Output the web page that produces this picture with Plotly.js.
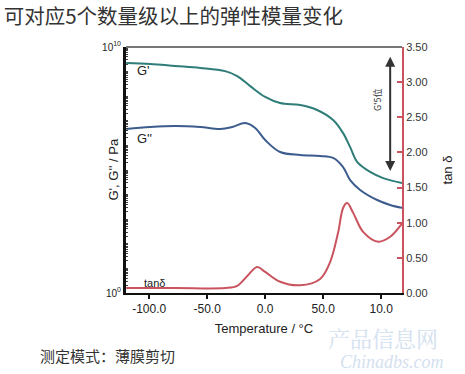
<!DOCTYPE html>
<html>
<head>
<meta charset="utf-8">
<script src="https://cdn.plot.ly/plotly-3.0.1.min.js"></script>
<style>html,body{margin:0;padding:0;background:#fff;}#chart{width:465px;height:374px;}</style>
</head>
<body>
<div id="chart"></div>
<script>
// Temperature (°C) sample points
const gPrimeT = [-119.8, -99.1, -77.6, -56, -34.5, -24.1, -12.9, 0, 12.9, 30.2, 44.8, 58.6, 67.2, 73.3, 79.3, 90.5, 101.7, 118.1];
const gPrimeLog = [9.35, 9.31, 9.23, 9.15, 9.02, 8.82, 8.41, 7.97, 7.72, 7.64, 7.44, 7.03, 6.50, 5.93, 5.33, 4.92, 4.67, 4.47];

const gDoubleT = [-119.8, -99.1, -77.6, -56, -38.8, -28.4, -17.2, -8.6, 0, 12.9, 30.2, 47.4, 58.6, 67.2, 73.3, 81.9, 96.6, 107.8, 118.1];
const gDoubleLog = [6.67, 6.75, 6.79, 6.75, 6.67, 6.75, 6.91, 6.71, 6.22, 5.73, 5.61, 5.57, 5.49, 5.12, 4.59, 4.19, 3.78, 3.58, 3.46];

const tanT = [-119.8, -77.6, -34.5, -24.1, -15, -6.9, 0, 12.9, 30.2, 47.4, 56, 62.9, 67.2, 70.7, 75.9, 84.5, 97.4, 107.8, 118.1];
const tanD = [0.07, 0.07, 0.07, 0.10, 0.25, 0.37, 0.30, 0.16, 0.11, 0.20, 0.44, 0.86, 1.21, 1.28, 1.14, 0.87, 0.73, 0.80, 0.99];

const xTickVals = [-100, -50, 0, 50, 100];
const xTickText = ["-100.0", "-50.0", "0.0", "50.0", "10.0"];
const yTickVals = [1, 1e10];
const yTickText = ["10<sup>0</sup>", "10<sup>10</sup>"];

const gPrime = gPrimeLog.map(v => Math.pow(10, v));
const gDouble = gDoubleLog.map(v => Math.pow(10, v));

// minor log tick positions (each decade and 2..9 within it)
const minorVals = [];
for (let d = 0; d < 10; d++) for (let k = 1; k <= 9; k++) if (!(d === 0 && k === 1)) minorVals.push(k * Math.pow(10, d));

const baseFont = "Liberation Sans, Arial, sans-serif";
const cjkFont = "Noto Sans CJK SC, sans-serif";

const traces = [
  {x: gPrimeT, y: gPrime, type: 'scatter', mode: 'lines', line: {color: '#2e7d78', width: 2, shape: 'spline', smoothing: 1}, yaxis: 'y', hoverinfo: 'skip'},
  {x: gDoubleT, y: gDouble, type: 'scatter', mode: 'lines', line: {color: '#3c5c8e', width: 2, shape: 'spline', smoothing: 1}, yaxis: 'y', hoverinfo: 'skip'},
  {x: tanT, y: tanD, type: 'scatter', mode: 'lines', line: {color: '#c9545f', width: 2, shape: 'spline', smoothing: 1}, yaxis: 'y2', hoverinfo: 'skip'}
];

const pw = 465 - 126 - 63, ph = 374 - 47 - 81;
function px(xp) { return (xp - 126) / pw; }
function py(yp) { return (374 - 81 - yp) / ph; }

const layout = {
  width: 465, height: 374,
  margin: {l: 126, r: 63, t: 47, b: 81},
  paper_bgcolor: '#fff', plot_bgcolor: '#fff',
  showlegend: false,
  font: {family: baseFont, size: 11, color: '#222'},
  title: {
    text: '可对应5个数量级以上的弹性模量变化',
    font: {family: cjkFont, size: 20.5, color: '#333'},
    x: 0.008, xref: 'container', xanchor: 'left',
    y: 0.955, yref: 'container', yanchor: 'middle'
  },
  xaxis: {
    range: [-120, 118],
    tickmode: 'array', tickvals: xTickVals, ticktext: xTickText,
    ticks: 'outside', ticklen: 4, tickwidth: 2, tickcolor: '#111',
    showline: true, linecolor: '#111', linewidth: 2,
    showgrid: false, zeroline: false,
    tickfont: {family: baseFont, size: 12, color: '#222'},
    title: {text: 'Temperature / °C', font: {family: baseFont, size: 13, color: '#222'}, standoff: 8}
  },
  yaxis: {
    type: 'log', range: [0, 10],
    tickmode: 'array', tickvals: yTickVals, ticktext: yTickText,
    ticks: 'inside', ticklen: 4, tickwidth: 1.5, tickcolor: '#111',
    minor: {tickmode: 'array', tickvals: minorVals, ticks: 'inside', ticklen: 2, tickwidth: 1, tickcolor: '#444'},
    showline: true, linecolor: '#111', linewidth: 3,
    showgrid: false, zeroline: false,
    tickfont: {family: baseFont, size: 10, color: '#222'}
  },
  yaxis2: {
    overlaying: 'y', side: 'right', range: [0, 3.5],
    tickmode: 'linear', tick0: 0, dtick: 0.5, tickformat: '.2f',
    ticks: 'inside', ticklen: 5, tickwidth: 2, tickcolor: '#c9545f',
    showline: true, linecolor: '#c9545f', linewidth: 2,
    showgrid: false, zeroline: false,
    tickfont: {family: baseFont, size: 11, color: '#333'},
    title: {text: 'tan δ', font: {family: baseFont, size: 13, color: '#222'}, standoff: 16}
  },
  shapes: [
    {type: 'line', xref: 'paper', yref: 'paper', x0: 0, x1: 1, y0: 1, y1: 1, line: {color: '#777', width: 2}}
  ],
  annotations: [
    {x: px(103), y: py(170), xref: 'paper', yref: 'paper', text: "G', G'' / Pa", textangle: -90, showarrow: false, font: {family: baseFont, size: 13, color: '#222'}},
    {x: -112, y: 9.05, xref: 'x', yref: 'y', text: "G'", showarrow: false, xanchor: 'left', font: {family: baseFont, size: 13, color: '#222'}},
    {x: -112, y: 6.3, xref: 'x', yref: 'y', text: "G''", showarrow: false, xanchor: 'left', font: {family: baseFont, size: 13, color: '#222'}},
    {x: -106, y: 0.42, xref: 'x', yref: 'y', text: 'tanδ', showarrow: false, xanchor: 'left', font: {family: baseFont, size: 11, color: '#222'}},
    {x: 107.8, y: 9.6, xref: 'x', yref: 'y', ax: 107.8, ay: 4.9, axref: 'x', ayref: 'y', text: '', showarrow: true, arrowhead: 2, arrowside: 'end+start', arrowsize: 1, arrowwidth: 2, arrowcolor: '#333'},
    {x: 97.5, y: 7.85, xref: 'x', yref: 'y', text: "G'5位", textangle: -90, showarrow: false, font: {family: cjkFont, size: 9, color: '#333'}},
    {x: px(38), y: py(355), xref: 'paper', yref: 'paper', xanchor: 'left', yanchor: 'middle', text: '测定模式：薄膜剪切', showarrow: false, font: {family: cjkFont, size: 15, color: '#333'}},
    {x: px(440), y: py(337), xref: 'paper', yref: 'paper', xanchor: 'right', yanchor: 'middle', text: '产品信息网', showarrow: false, font: {family: 'Noto Serif CJK SC, ' + cjkFont, size: 22, color: '#d3e1ef'}},
    {x: px(446), y: py(362), xref: 'paper', yref: 'paper', xanchor: 'right', yanchor: 'middle', text: '<i>Chinadbs.com</i>', showarrow: false, font: {family: 'Liberation Serif, serif', size: 18, color: '#d3e1ef'}}
  ]
};

Plotly.newPlot('chart', traces, layout, {staticPlot: true, displayModeBar: false});
</script>
</body>
</html>
